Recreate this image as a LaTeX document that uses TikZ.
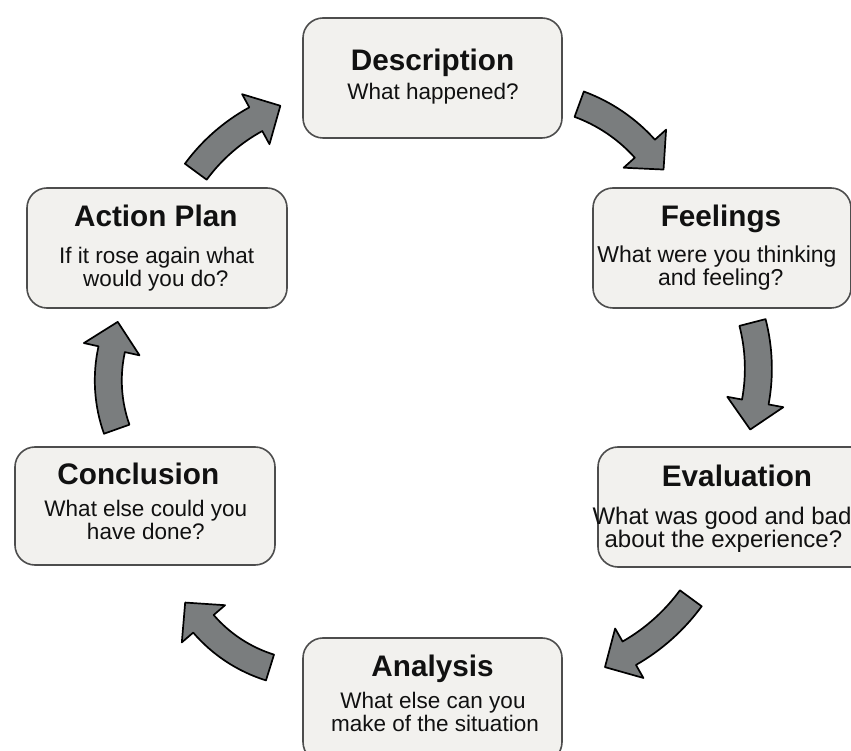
\documentclass[tikz,border=0pt]{standalone}
\usepackage{fontspec}
\setmainfont{Liberation Sans}
\usetikzlibrary{calc}
\definecolor{boxfill}{HTML}{F2F1EE}
\definecolor{boxline}{HTML}{4D4D4D}
\definecolor{arrfill}{HTML}{7A7D7E}
\definecolor{txt}{HTML}{111111}
\tikzset{
  stagebox/.style={draw=boxline, fill=boxfill, line width=1.6pt, rounded corners=20pt, inner sep=0pt},
  ttl/.style={font=\fontsize{29.7}{32}\selectfont\bfseries, text=txt, anchor=base, inner sep=0pt},
  sub/.style={font=\fontsize{22.5}{24}\selectfont, text=txt, anchor=base, inner sep=0pt},
  cyclearr/.style={fill=arrfill, draw=black, line width=1.7pt, line join=round},
}
% tail centre (x,y), head-base centre (x,y), turn angle, name
\newcommand{\cyclearrow}[6]{%
  \pgfmathsetmacro{\CAphi}{atan2(#4-#2,#3-#1)}%
  \pgfmathsetmacro{\CAch}{veclen(#3-#1,#4-#2)}%
  \pgfmathsetmacro{\CAR}{\CAch/(2*sin(#5/2))}%
  \pgfmathsetmacro{\CAa}{\CAphi+#5/2+90}%
  \pgfmathsetmacro{\CAb}{\CAa-#5}%
  \pgfmathsetmacro{\CAro}{\CAR+13.5}%
  \pgfmathsetmacro{\CAri}{\CAR-13.5}%
  \pgfmathsetmacro{\CAho}{\CAR+28.5}%
  \pgfmathsetmacro{\CAhi}{\CAR-28.5}%
  \pgfmathsetmacro{\CAtd}{\CAb-90}%
  \coordinate (#6) at ({#1-\CAR*cos(\CAa)},{#2-\CAR*sin(\CAa)});
  \filldraw[cyclearr] ($(#6)+(\CAa:\CAro)$)
    arc[start angle=\CAa, end angle=\CAb, radius=\CAro]
    -- ($(#6)+(\CAb:\CAho)$)
    -- ($(#6)+(\CAb:\CAR)+(\CAtd:28)$)
    -- ($(#6)+(\CAb:\CAhi)$)
    -- ($(#6)+(\CAb:\CAri)$)
    arc[start angle=\CAb, end angle=\CAa, radius=\CAri]
    -- cycle;
}
\begin{document}
\begin{tikzpicture}[x=1pt,y=1pt]
\useasboundingbox (0,0) rectangle (851,750);
\clip (0,0) rectangle (851,750);
\fill[white] (0,0) rectangle (851,750);

% boxes
\node[stagebox, minimum width=259pt, minimum height=120pt] (desc) at (432.5,672) {};
\node[stagebox, minimum width=258pt, minimum height=120pt] (feel) at (722,502) {};
\node[stagebox, minimum width=278pt, minimum height=120pt] (eval) at (737,243) {};
\node[stagebox, minimum width=259pt, minimum height=124pt] (anal) at (432.5,50) {};
\node[stagebox, minimum width=260pt, minimum height=118pt] (concl) at (145,244) {};
\node[stagebox, minimum width=260pt, minimum height=120pt] (act) at (157,502) {};

% texts
\node[ttl] (desct) at (432.5,679) {Description};
\node[sub] (descs) at (433,650) {What happened?};

\node[ttl] (feelt) at (721,523.3) {Feelings};
\node[sub, font=\fontsize{23}{24}\selectfont] (feels1) at (717,487.5) {What were you thinking};
\node[sub, font=\fontsize{23}{24}\selectfont] (feels2) at (720.8,464.5) {and feeling?};

\node[ttl] (evalt) at (737,263.3) {Evaluation};
\node[sub, font=\fontsize{24}{25}\selectfont] (evals1) at (722,225.5) {What was good and bad};
\node[sub, font=\fontsize{24}{25}\selectfont] (evals2) at (723.4,202.5) {about the experience?};

\node[ttl] (analt) at (432.5,73.3) {Analysis};
\node[sub] (anals1) at (433,41.7) {What else can you};
\node[sub] (anals2) at (435,18.3) {make of the situation};

\node[ttl] (conclt) at (138.3,265) {Conclusion};
\node[sub] (concls1) at (145.8,233) {What else could you};
\node[sub] (concls2) at (145.8,210.5) {have done?};

\node[ttl] (actt) at (155.8,523.3) {Action Plan};
\node[sub] (acts1) at (156.7,486.7) {If it rose again what};
\node[sub] (acts2) at (155.8,463.3) {would you do?};

% curved arrows
\cyclearrow{579.2}{645.8}{645}{601.2}{28}{ca1}
\cyclearrow{752.5}{427.5}{755.3}{348}{25}{ca2}
\cyclearrow{690.8}{151.7}{629.2}{96.7}{24}{ca3}
\cyclearrow{270}{82.5}{203.3}{126.3}{32}{ca4}
\cyclearrow{116.7}{320.8}{111.7}{400.8}{32}{ca5}
\cyclearrow{195.8}{578.3}{255.8}{630.8}{25}{ca6}
\end{tikzpicture}
\end{document}
